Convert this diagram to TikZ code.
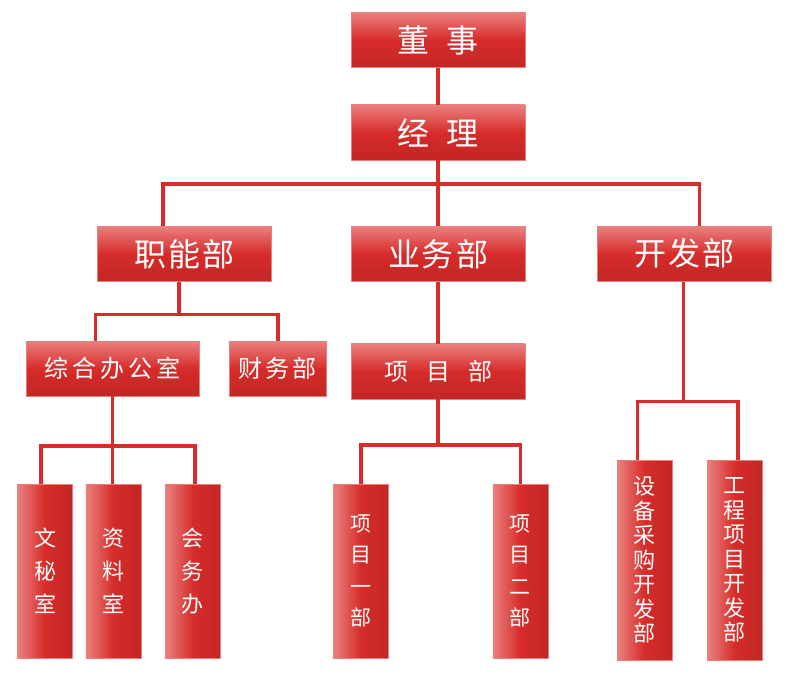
\documentclass[tikz,border=0pt]{standalone}
\usepackage{fontspec}
\newfontfamily\cjk{Noto Sans CJK SC}
\usetikzlibrary{positioning}
\definecolor{mred}{RGB}{214,44,42}
\definecolor{mlight}{RGB}{234,128,126}
\definecolor{mdark}{RGB}{194,38,36}
\tikzset{
    hbox/.style = {rectangle, draw=mlight, thin, top color=mlight, bottom color=mdark,
                   middle color=mred, minimum width=174pt, minimum height=55pt,
                   inner sep=0pt, text=white, font=\cjk\fontsize{32}{34}\selectfont},
    sbox/.style = {hbox, font=\cjk\fontsize{24}{26}\selectfont},
    vbox/.style = {rectangle, draw=mlight, thin, left color=mlight, right color=mdark,
                   middle color=mred, minimum width=55pt, minimum height=174pt,
                   inner sep=0pt, text=white, align=center,
                   font=\cjk\fontsize{22}{33}\selectfont},
    conn/.style = {draw=mred, line width=3.8pt, line join=miter}
    }
\begin{document}
\begin{tikzpicture}[x=1pt, y=-1pt]
\useasboundingbox (0,0) rectangle (792,679);
% top
\node [hbox] (dongshi) at (438,40) {董\hspace{18pt}事};
\node [hbox, below=37pt of dongshi] (jingli) {经\hspace{18pt}理};
% departments
\node [hbox, below=66pt of jingli] (yewu) {业\hspace{2pt}务\hspace{2pt}部};
\node [hbox, left=79pt of yewu] (zhineng) {职\hspace{2pt}能\hspace{2pt}部};
\node [hbox, right=72pt of yewu] (kaifa) {开\hspace{2pt}发\hspace{2pt}部};
% offices
\node [sbox, at={(112.5,368.5)}, minimum width=173pt] (zonghe) {综\hspace{4pt}合\hspace{4pt}办\hspace{4pt}公\hspace{4pt}室};
\node [sbox, right=30pt of zonghe, minimum width=97pt] (caiwu) {财\hspace{3pt}务\hspace{3pt}部};
\node [sbox, below=62pt of yewu] (xiangmu) {项\hspace{18pt}目\hspace{18pt}部};
% bottom row
\node [vbox] (wenmi) at (45,571) {文\\秘\\室};
\node [vbox, right=13pt of wenmi] (ziliao) {资\\料\\室};
\node [vbox, right=24pt of ziliao] (huiwu) {会\\务\\办};
\node [vbox, font=\cjk\fontsize{21}{31.5}\selectfont] (xm1) at (361,571) {项\\目\\一\\部};
\node [vbox, right=104pt of xm1, font=\cjk\fontsize{21}{31.5}\selectfont] (xm2) {项\\目\\二\\部};
\node [vbox, minimum height=200pt, font=\cjk\fontsize{22}{24.5}\selectfont] (shebei) at (644.5,560) {设\\备\\采\\购\\开\\发\\部};
\node [vbox, minimum height=200pt, right=35pt of shebei, font=\cjk\fontsize{22}{24.5}\selectfont] (gongcheng) {工\\程\\项\\目\\开\\发\\部};
% bus points
\coordinate (jbus) at ([yshift=-24pt]jingli.south);
\coordinate (zbus) at ([xshift=-6pt,yshift=-33pt]zhineng.south);
\coordinate (obus) at ([yshift=-50pt]zonghe.south);
\coordinate (xbus) at ([yshift=-46pt]xiangmu.south);
\coordinate (kbus) at ([xshift=-1pt,yshift=-120pt]kaifa.south);
% connectors
\draw [conn] (dongshi) -- (jingli);
\draw [conn] (jingli) -- (yewu);
\draw [conn] ([xshift=-22pt]zhineng.north) |- (jbus) -| ([xshift=15pt]kaifa.north);
\draw [conn] ([xshift=-6pt]zhineng.south) -- (zbus);
\draw [conn] ([xshift=-17pt]zonghe.north) |- (zbus) -| (caiwu.north);
\draw [conn] (zonghe.south) -- (obus);
\draw [conn] ([xshift=-4pt]wenmi.north) |- (obus) -| ([xshift=2pt]huiwu.north);
\draw [conn] (obus) -- (obus |- ziliao.north);
\draw [conn] (yewu) -- (xiangmu);
\draw [conn] (xiangmu.south) -- (xbus);
\draw [conn] (xm1.north) |- (xbus) -| (xm2.north);
\draw [conn] ([xshift=-1pt]kaifa.south) -- (kbus);
\draw [conn] ([xshift=-7pt]shebei.north) |- (kbus) -| ([xshift=3pt]gongcheng.north);
\end{tikzpicture}
\end{document}
